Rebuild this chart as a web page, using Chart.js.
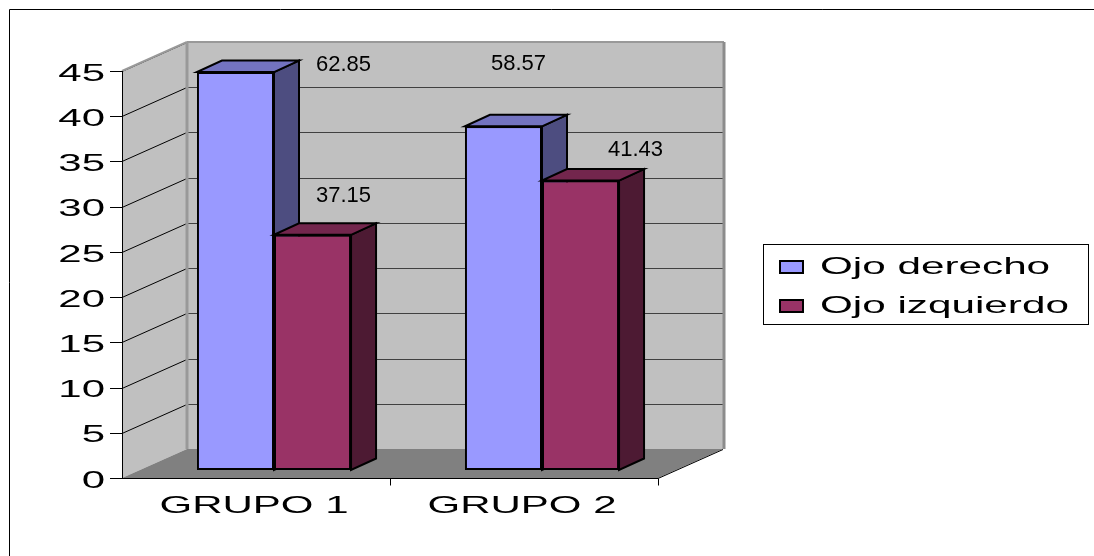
<!DOCTYPE html>
<html>
<head>
<meta charset="utf-8">
<script src="https://cdn.jsdelivr.net/npm/chart.js@4.4.0/dist/chart.umd.min.js"></script>
<style>
  html, body { margin: 0; padding: 0; background: #fff; }
  #wrap { width: 1094px; height: 556px; }
</style>
</head>
<body>
<div id="wrap"><canvas id="chart" width="1094" height="556"></canvas></div>
<script>
const categories = ["GRUPO 1", "GRUPO 2"];
const ojoDerecho = [44, 38];
const ojoIzquierdo = [26, 32];
const pctDerecho = ["62.85", "58.57"];
const pctIzquierdo = ["37.15", "41.43"];
const yTicks = [0, 5, 10, 15, 20, 25, 30, 35, 40, 45];
const seriesNames = ["Ojo derecho", "Ojo izquierdo"];

const FONT = '"Liberation Sans", Arial, sans-serif';
const WALL = { dx: 65, dy: -29 };     // back wall offset
const SHIFT = { dx: 18, dy: -8 };     // bars sit a little behind the front
const DEPTH = { dx: 25, dy: -11.5 };  // bar thickness
const faceColors = [
  { front: "#9999ff", top: "#7373c0", side: "#4d4d80" },
  { front: "#993366", top: "#73264d", side: "#4d1a33" },
];
// where each data label sits, relative to the bar's front top center
const labelNudge = [
  [[108, -7], [15, -62]],
  [[31, -39], [55, -31]],
];

function poly(ctx, pts) {
  ctx.beginPath();
  ctx.moveTo(pts[0][0], pts[0][1]);
  for (let i = 1; i < pts.length; i++) ctx.lineTo(pts[i][0], pts[i][1]);
  ctx.closePath();
}

function line(ctx, x1, y1, x2, y2) {
  ctx.beginPath();
  ctx.moveTo(x1, y1);
  ctx.lineTo(x2, y2);
  ctx.stroke();
}

// the original text is stretched sideways
function wideText(ctx, txt, x, y, size, sx, align) {
  ctx.save();
  ctx.translate(x, y);
  ctx.scale(sx, 1);
  ctx.font = size + "px " + FONT;
  ctx.fillStyle = "#000";
  ctx.textAlign = align;
  ctx.textBaseline = "middle";
  ctx.fillText(txt, 0, 0);
  ctx.restore();
}

function barFaces(ctx, bar, c) {
  const l = bar.x - bar.width / 2, r = bar.x + bar.width / 2;
  const t = bar.y, b = bar.base;
  ctx.lineWidth = 2;
  ctx.lineJoin = "miter";
  ctx.strokeStyle = "#000";
  ctx.fillStyle = c.side;
  poly(ctx, [[r, t], [r + DEPTH.dx, t + DEPTH.dy], [r + DEPTH.dx, b + DEPTH.dy], [r, b]]);
  ctx.fill(); ctx.stroke();
  ctx.fillStyle = c.top;
  poly(ctx, [[l, t], [r, t], [r + DEPTH.dx, t + DEPTH.dy], [l + DEPTH.dx, t + DEPTH.dy]]);
  ctx.fill(); ctx.stroke();
}

const chart3d = {
  id: "chart3d",
  beforeDatasetsDraw(chart) {
    const { ctx, chartArea: a, scales: { y } } = chart;
    const L = a.left, R = a.right;
    const B = y.getPixelForValue(0), T = y.getPixelForValue(45);
    const dx = WALL.dx, dy = WALL.dy;
    ctx.save();
    ctx.fillStyle = "#c0c0c0";
    poly(ctx, [[L, T], [L + dx, T + dy], [L + dx, B + dy], [L, B]]);
    ctx.fill();
    poly(ctx, [[L + dx, T + dy], [R + dx, T + dy], [R + dx, B + dy], [L + dx, B + dy]]);
    ctx.fill();
    ctx.fillStyle = "#808080";
    poly(ctx, [[L, B], [R, B], [R + dx, B + dy], [L + dx, B + dy]]);
    ctx.fill();

    // gridlines
    ctx.lineWidth = 1;
    yTicks.forEach(v => {
      if (v === 0) return;
      const py = Math.round(y.getPixelForValue(v)) + 0.5;
      ctx.strokeStyle = "#000";
      line(ctx, L, py, L + dx, py + dy);
      if (v < 45) {
        ctx.strokeStyle = "#404040";
        line(ctx, L + dx, py + dy, R + dx, py + dy);
      }
    });

    // wall edges
    ctx.strokeStyle = "#999";
    ctx.lineWidth = 2;
    line(ctx, L, T, L + dx, T + dy);
    line(ctx, L + dx, T + dy, R + dx + 1, T + dy);
    ctx.lineWidth = 3;
    line(ctx, L + dx, T + dy, L + dx, B + dy);
    ctx.strokeStyle = "#8c8c8c";
    line(ctx, R + dx + 1, T + dy, R + dx + 1, B + dy);

    // axes
    ctx.strokeStyle = "#000";
    ctx.lineWidth = 1;
    line(ctx, L + 0.5, T, L + 0.5, B + 1);
    yTicks.forEach(v => {
      const py = Math.round(y.getPixelForValue(v)) + 0.5;
      line(ctx, L - 12, py, L, py);
    });
    const by = Math.round(B) + 0.5;
    line(ctx, L, by, R, by);
    line(ctx, R, by, R + dx, by + dy);
    for (let k = 1; k <= categories.length; k++) {
      const px = Math.round(L + k * (R - L) / categories.length) + 0.5;
      line(ctx, px, by, px, by + 7);
    }

    ctx.translate(SHIFT.dx, SHIFT.dy);
  },
  afterDatasetsDraw(chart) {
    const ctx = chart.ctx;
    // redraw in series order so each bar's side sits behind its right neighbour
    [0, 1].forEach(i => {
      chart.getDatasetMeta(i).data.forEach(bar => {
        bar.draw(ctx);
        barFaces(ctx, bar, faceColors[i]);
      });
    });
    ctx.restore();
  },
  afterDraw(chart) {
    const { ctx, scales: { x, y } } = chart;

    yTicks.forEach(v => {
      wideText(ctx, String(v), 105, y.getPixelForValue(v) + 3, 24, 1.75, "right");
    });
    categories.forEach((c, i) => {
      wideText(ctx, c, x.getPixelForValue(i) - 2, 506, 24, 1.75, "center");
    });

    // data labels
    [pctDerecho, pctIzquierdo].forEach((labels, i) => {
      chart.getDatasetMeta(i).data.forEach((bar, j) => {
        const n = labelNudge[i][j];
        wideText(ctx, labels[j], bar.x + SHIFT.dx + n[0], bar.y + SHIFT.dy + n[1], 22, 1.0, "center");
      });
    });

    // legend
    ctx.save();
    ctx.strokeStyle = "#000";
    ctx.lineWidth = 1;
    ctx.strokeRect(763.5, 244.5, 325, 80);
    seriesNames.forEach((name, i) => {
      const cy = 267 + i * 39;
      ctx.fillStyle = faceColors[i].front;
      ctx.lineWidth = 2;
      ctx.fillRect(780, cy - 6, 23, 12);
      ctx.strokeRect(780, cy - 6, 23, 12);
      wideText(ctx, name, 820, cy, 24, 1.76, "left");
    });

    // outer frame (only left and top edges show)
    ctx.lineWidth = 1;
    line(ctx, 9.5, 9.5, 9.5, 556);
    line(ctx, 9.5, 9.5, 1094, 9.5);
    ctx.restore();
  },
};

const chart = new Chart(document.getElementById("chart").getContext("2d"), {
  type: "bar",
  data: {
    labels: categories,
    datasets: [
      {
        label: seriesNames[0],
        data: ojoDerecho,
        backgroundColor: faceColors[0].front,
        borderColor: "#000",
        borderWidth: 2,
        borderSkipped: false,
      },
      {
        label: seriesNames[1],
        data: ojoIzquierdo,
        backgroundColor: faceColors[1].front,
        borderColor: "#000",
        borderWidth: 2,
        borderSkipped: false,
      },
    ],
  },
  options: {
    responsive: false,
    animation: false,
    devicePixelRatio: 1,
    categoryPercentage: 0.575,
    barPercentage: 1,
    layout: { padding: { left: 122, right: 436, top: 71, bottom: 78 } },
    plugins: {
      legend: { display: false },
      tooltip: { enabled: false },
    },
    scales: {
      x: { display: false },
      y: { display: false, min: 0, max: 45 },
    },
  },
  plugins: [chart3d],
});
</script>
</body>
</html>
